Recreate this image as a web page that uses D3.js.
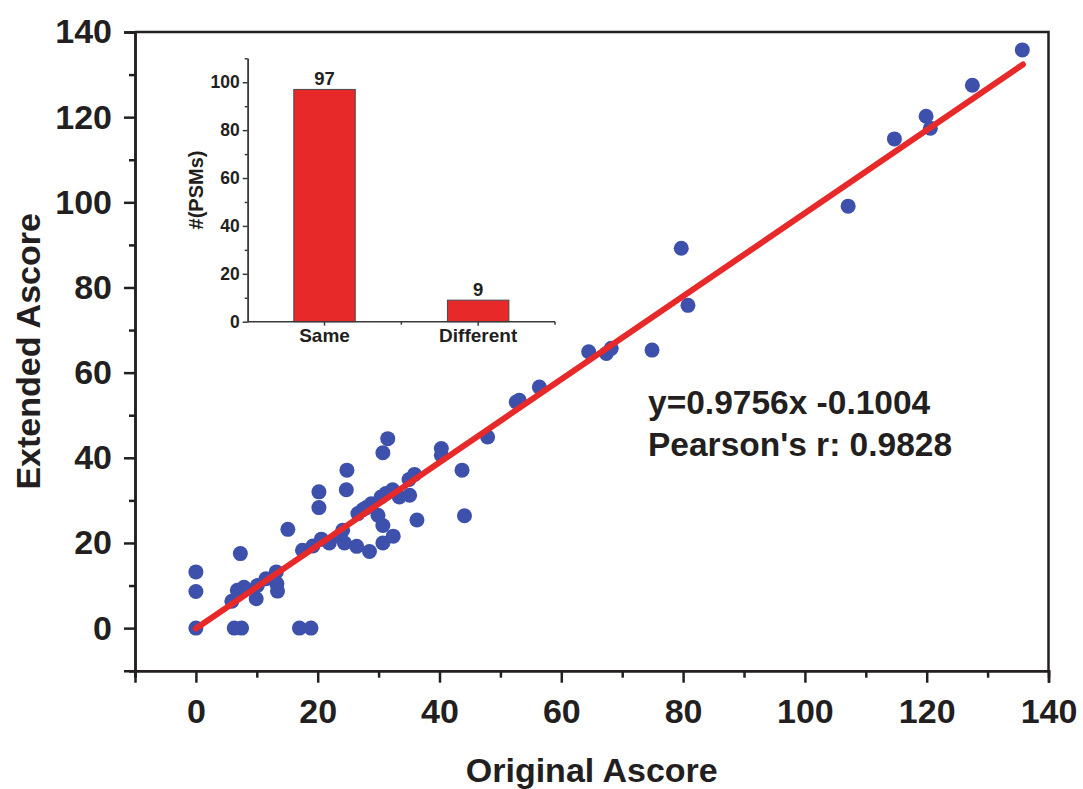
<!DOCTYPE html>
<html>
<head>
<meta charset="utf-8">
<script src="https://cdn.jsdelivr.net/npm/d3@7"></script>
<style>
  html, body { margin: 0; padding: 0; background: #ffffff; }
  svg { display: block; }
  text { font-family: "Liberation Sans", Arial, Helvetica, sans-serif; font-weight: bold; fill: #231f20; }
</style>
</head>
<body>
<svg id="chart" width="1083" height="789"></svg>
<script>
// Original vs extended Ascore for each PSM
const originalAscore = [
  0, 0, 0,
  6.3, 7.5, 17.0, 18.9,
  5.9, 6.8, 7.9, 7.3, 9.9, 10.1, 11.5, 13.2, 13.3, 13.4,
  15.1, 17.5, 19.2, 20.6, 21.9, 23.6, 24.1, 24.4,
  20.2, 20.2, 24.8, 24.7,
  26.4, 28.5, 26.6, 27.4, 28.8, 29.9, 30.7, 30.7, 32.4, 28.0,
  30.4, 31.2, 32.3, 33.4, 31.5, 30.7,
  35.0, 35.9, 35.1, 36.3,
  40.3, 40.3, 43.7, 44.1, 47.9, 52.6, 53.1, 56.4,
  64.5, 67.4, 68.2, 74.9, 79.7, 80.8,
  107.1, 114.7, 119.9, 120.6, 127.5, 135.7
];
const extendedAscore = [
  0, 8.6, 13.2,
  0, 0, 0, 0,
  6.3, 8.9, 9.6, 17.5, 6.9, 10.0, 11.6, 13.2, 10.4, 8.7,
  23.2, 18.3, 19.3, 20.9, 20.0, 21.6, 23.0, 20.0,
  32.0, 28.3, 37.1, 32.5,
  19.2, 18.0, 26.9, 27.8, 29.2, 26.5, 24.1, 20.0, 21.6, 28.3,
  30.8, 31.6, 32.5, 30.8, 44.5, 41.2,
  34.9, 36.1, 31.2, 25.4,
  42.2, 40.6, 37.1, 26.4, 44.9, 53.1, 53.5, 56.6,
  64.9, 64.5, 65.7, 65.3, 89.2, 75.8,
  99.1, 114.9, 120.2, 117.4, 127.5, 135.8
];

// Linear fit
const fitSlope = 0.9756;
const fitIntercept = -0.1004;
const fitRange = [0, 135.8];
const fitLabels = ["y=0.9756x -0.1004", "Pearson's r: 0.9828"];

// Axis ticks
const majorTicks = [0, 20, 40, 60, 80, 100, 120, 140];
const minorTicks = [-10, 10, 30, 50, 70, 90, 110, 130];

// Inset: PSM counts by site assignment
const insetCategories = ["Same", "Different"];
const insetCounts = [97, 9];
const insetMajorTicks = [0, 20, 40, 60, 80, 100];
const insetMinorTicks = [10, 30, 50, 70, 90, 110];

const RED = "#e8292a";
const BLUE = "#3d50ab";
const INK = "#231f20";

const svg = d3.select("#chart");

// ---------- main scatter ----------
const x = d3.scaleLinear().domain([-10, 140]).range([135, 1048.5]);
const y = d3.scaleLinear().domain([-10, 140]).range([670.7, 32]);

const main = svg.append("g");

// points
main.append("g")
  .selectAll("circle")
  .data(originalAscore.map((v, i) => [v, extendedAscore[i]]))
  .join("circle")
  .attr("cx", d => x(d[0]))
  .attr("cy", d => y(d[1]))
  .attr("r", 7.5)
  .attr("fill", BLUE);

// regression line
main.append("path")
  .datum(fitRange.map(v => [v, fitSlope * v + fitIntercept]))
  .attr("d", d3.line().x(d => x(d[0])).y(d => y(d[1])))
  .attr("fill", "none")
  .attr("stroke", RED)
  .attr("stroke-width", 6)
  .attr("stroke-linecap", "round");

// axes
function styleAxis(g) {
  g.select(".domain").attr("stroke", INK).attr("stroke-width", 2.5);
  g.selectAll(".tick line").attr("stroke", INK).attr("stroke-width", 2.5);
  g.selectAll(".tick text")
    .attr("fill", INK)
    .style("font-size", "34px")
    .style("font-family", "'Liberation Sans', Arial, sans-serif")
    .style("font-weight", "bold");
}

const yBottom = y.range()[0];
const xLeft = x.range()[0];

main.append("g")
  .attr("transform", `translate(0,${yBottom})`)
  .call(d3.axisBottom(x).tickValues(minorTicks).tickSize(7).tickFormat(""))
  .call(styleAxis);
main.append("g")
  .attr("transform", `translate(0,${yBottom})`)
  .call(d3.axisBottom(x).tickValues(majorTicks).tickSize(12).tickPadding(16).tickFormat(d3.format("d")))
  .call(styleAxis);

main.append("g")
  .attr("transform", `translate(${xLeft},0)`)
  .call(d3.axisLeft(y).tickValues(minorTicks).tickSize(6).tickFormat(""))
  .call(styleAxis);
main.append("g")
  .attr("transform", `translate(${xLeft},0)`)
  .call(d3.axisLeft(y).tickValues(majorTicks).tickSize(11).tickPadding(12).tickFormat(d3.format("d")))
  .call(styleAxis);

// top and right frame
main.append("path")
  .attr("d", `M${x.range()[0]},${y.range()[1]}H${x.range()[1]}V${y.range()[0]}`)
  .attr("fill", "none")
  .attr("stroke", INK)
  .attr("stroke-width", 2.5);

// axis titles
main.append("text")
  .attr("x", (x.range()[0] + x.range()[1]) / 2)
  .attr("y", 782)
  .attr("text-anchor", "middle")
  .style("font-size", "34px")
  .text("Original Ascore");

main.append("text")
  .attr("transform", `translate(40,${(y.range()[0] + y.range()[1]) / 2}) rotate(-90)`)
  .attr("text-anchor", "middle")
  .style("font-size", "34px")
  .text("Extended Ascore");

// fit annotation
main.append("g")
  .selectAll("text")
  .data(fitLabels)
  .join("text")
  .attr("x", 648)
  .attr("y", (d, i) => 414 + i * 42)
  .style("font-size", "33.5px")
  .text(d => d);

// ---------- inset bar chart ----------
const ix = d3.scaleBand().domain(insetCategories).range([247.7, 555]).paddingInner(0.6).paddingOuter(0.3);
const iy = d3.scaleLinear().domain([0, 110]).range([321.7, 58.3]);

const inset = svg.append("g");

inset.append("g")
  .selectAll("rect")
  .data(insetCategories.map((c, i) => ({ c, v: insetCounts[i] })))
  .join("rect")
  .attr("x", d => ix(d.c))
  .attr("y", d => iy(d.v))
  .attr("width", ix.bandwidth())
  .attr("height", d => iy(0) - iy(d.v))
  .attr("fill", RED)
  .attr("stroke", "#4a4a4a")
  .attr("stroke-width", 1);

inset.append("g")
  .selectAll("text")
  .data(insetCategories.map((c, i) => ({ c, v: insetCounts[i] })))
  .join("text")
  .attr("x", d => ix(d.c) + ix.bandwidth() / 2)
  .attr("y", d => iy(d.v) - 4)
  .attr("text-anchor", "middle")
  .style("font-size", "18.5px")
  .text(d => d.v);

function styleInsetAxis(g) {
  g.select(".domain").attr("stroke", "#3a3a3a").attr("stroke-width", 1.5);
  g.selectAll(".tick line").attr("stroke", "#3a3a3a").attr("stroke-width", 1.5);
  g.selectAll(".tick text")
    .attr("fill", INK)
    .style("font-size", "17.5px")
    .style("font-family", "'Liberation Sans', Arial, sans-serif")
    .style("font-weight", "bold");
}

// inset x axis: category ticks plus boundary ticks
inset.append("g")
  .attr("transform", `translate(0,${iy(0)})`)
  .call(d3.axisBottom(ix).tickSize(4).tickPadding(3).tickSizeOuter(0))
  .call(styleInsetAxis)
  .call(g => g.selectAll(".tick text").style("font-size", "19px"))
  .call(g => g.select(".domain").attr("d", `M${ix.range()[0]},0H${ix.range()[1]}`));
inset.append("g")
  .selectAll("line")
  .data([(ix("Same") + ix("Different") + ix.bandwidth()) / 2, ix.range()[1]])
  .join("line")
  .attr("x1", d => d).attr("x2", d => d)
  .attr("y1", iy(0)).attr("y2", iy(0) + 3)
  .attr("stroke", "#3a3a3a").attr("stroke-width", 1.5);

// inset y axis
inset.append("g")
  .attr("transform", `translate(${ix.range()[0]},0)`)
  .call(d3.axisLeft(iy).tickValues(insetMinorTicks).tickSize(3).tickFormat("").tickSizeOuter(0))
  .call(styleInsetAxis);
inset.append("g")
  .attr("transform", `translate(${ix.range()[0]},0)`)
  .call(d3.axisLeft(iy).tickValues(insetMajorTicks).tickSize(5).tickPadding(3).tickSizeOuter(0))
  .call(styleInsetAxis);

inset.append("text")
  .attr("transform", `translate(203,${(iy.range()[0] + iy.range()[1]) / 2}) rotate(-90)`)
  .attr("text-anchor", "middle")
  .style("font-size", "20px")
  .text("#(PSMs)");
</script>
</body>
</html>
